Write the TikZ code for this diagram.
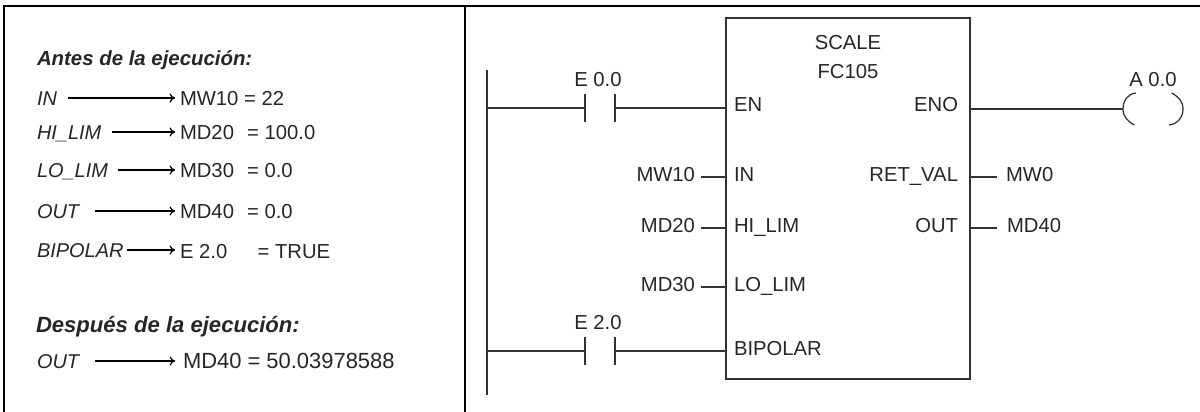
\documentclass[tikz,border=0pt]{standalone}
\usepackage{fontspec}
\setmainfont{Liberation Sans}
\usetikzlibrary{arrows.meta}
\tikzset{
    txt/.style={inner sep=0, outer sep=0, text=black!85, font=\fontsize{14.4}{16}\selectfont,
                text height=7pt, text depth=0pt},
    head/.style={txt, anchor=west, text height=10pt, font=\fontsize{14.5}{16}\selectfont\bfseries\itshape},
    param/.style={txt, anchor=west, text height=10pt, font=\fontsize{14.2}{16}\selectfont\itshape},
    val/.style={txt, anchor=west},
    pinl/.style={txt, anchor=west},
    pinr/.style={txt, anchor=east},
    frame/.style={black, line width=1.5pt},
    wire/.style={black!80, line width=0.9pt},
    arrow/.style={black, line width=0.85pt, -{To[length=4pt,width=6.5pt]}, shorten >=3.5pt},
    contact/.style={inner sep=0, outer sep=0, minimum width=0.75cm, minimum height=0.7cm},
}
\begin{document}
\begin{tikzpicture}[x=0.025cm, y=-0.025cm]
        \useasboundingbox (0,0) rectangle (1200,412);
        % Draw the frame
        \draw[frame] (4,412) -- (4,6) -- (1200,6);
        \draw[frame] (465,6) -- (465,412);
        % Draw the values before and after
        \node[head]  at (37, 58)   (antes)   {Antes de la ejecución:};
        \node[param] at (37, 98)   (pin)     {IN};
        \node[param] at (37, 132)  (phi)     {HI\_LIM};
        \node[param] at (37, 170)  (plo)     {LO\_LIM};
        \node[param] at (37, 211)  (pout)    {OUT};
        \node[param] at (37, 250)  (pbip)    {BIPOLAR};
        \node[val]   at (180, 101) (vin)     {MW10 = 22};
        \node[val]   at (180, 135) (vhi)     {MD20\hspace{.65em}= 100.0};
        \node[val]   at (180, 173) (vlo)     {MD30\hspace{.65em}= 0.0};
        \node[val]   at (180, 214) (vout)    {MD40\hspace{.65em}= 0.0};
        \node[val]   at (180, 254) (vbip)    {E 2.0\hspace{1.5em}= TRUE};
        \node[head, font=\fontsize{15.7}{16}\selectfont\bfseries\itshape] at (36, 325) (despues) {Después de la ejecución:};
        \node[param] at (37, 361)  (pfin)    {OUT};
        \node[val, font=\fontsize{15.6}{16}\selectfont] at (183, 364) (vfin) {MD40 = 50.03978588};
        % Connect them with arrows
        \draw[arrow, shorten <=7.8pt] (pin.east) -- (pin.east -| vin.west);
        \draw[arrow, shorten <=7.8pt] (phi.east) -- (phi.east -| vhi.west);
        \draw[arrow, shorten <=7.1pt] (plo.east) -- (plo.east -| vlo.west);
        \draw[arrow, shorten <=11.3pt] (pout.east) -- (pout.east -| vout.west);
        \draw[arrow, shorten <=2.1pt] (pbip.east) -- (pbip.east -| vbip.west);
        \draw[arrow, shorten <=11.3pt, shorten >=5.5pt] (pfin.east) -- (pfin.east -| vfin.west);
        % Draw the block and its pins
        \node[draw=black!80, line width=0.9pt, inner sep=0, outer sep=0,
              minimum width=6.1cm, minimum height=9.025cm] at (848, 198.5) (block) {};
        \node[txt] at (848, 45)  (scale) {SCALE};
        \node[txt] at (848, 74)  (fc)    {FC105};
        \node[pinl] at (734, 107) (en)     {EN};
        \node[pinl] at (734, 177) (in)     {IN};
        \node[pinl] at (734, 228) (hilim)  {HI\_LIM};
        \node[pinl] at (734, 287) (lolim)  {LO\_LIM};
        \node[pinl] at (734, 351) (bipolar) {BIPOLAR};
        \node[pinr] at (958, 107) (eno)    {ENO};
        \node[pinr] at (958, 177) (retval) {RET\_VAL};
        \node[pinr] at (958, 228) (out)    {OUT};
        % Draw the operands
        \node[pinr] at (695, 177)  (mw10) {MW10};
        \node[pinr] at (695, 228)  (md20) {MD20};
        \node[pinr] at (695, 287)  (md30) {MD30};
        \node[pinl] at (1006, 177) (mw0)  {MW0};
        \node[pinl] at (1007, 228) (md40) {MD40};
        \draw[wire, shorten <=4.2pt] (mw10.east) -- (mw10.east -| block.west);
        \draw[wire, shorten <=4.2pt] (md20.east) -- (md20.east -| block.west);
        \draw[wire, shorten <=4.2pt] (md30.east) -- (md30.east -| block.west);
        \draw[wire, shorten >=6.4pt] (retval.east -| block.east) -- (mw0.west);
        \draw[wire, shorten >=7.1pt] (out.east -| block.east) -- (md40.west);
        % Draw the rail and the rungs
        \coordinate (railtop) at (487, 70);
        \coordinate (railbot) at (487, 395);
        \draw[wire] (railtop) -- (railbot);
        \node[contact] at (600, 108) (e00) {};
        \node[contact] at (600, 351) (e20) {};
        \node[txt] at (598, 82)  (e00l) {E 0.0};
        \node[txt] at (598, 325) (e20l) {E 2.0};
        \foreach \c in {e00, e20} {
            \draw[wire] (\c.north west) -- (\c.south west);
            \draw[wire] (\c.north east) -- (\c.south east);
            \draw[wire] (\c.west -| railtop) -- (\c.west);
            \draw[wire] (\c.east) -- (\c.east -| block.west);
        }
        % Draw the coil
        \node[inner sep=0, outer sep=0, minimum width=1.5cm, minimum height=0.8cm] at (1153, 109) (coil) {};
        \node[txt] at (1153, 82) (a00) {A 0.0};
        \draw[wire] (coil.west -| block.east) -- (coil.west);
        \draw[wire] ([xshift=0.32cm]coil.north west) to[out=185, in=90] (coil.west)
            to[out=-90, in=150] ([xshift=0.28cm]coil.south west);
        \draw[wire] ([xshift=-0.28cm]coil.north east) to[out=-30, in=90] (coil.east)
            to[out=-90, in=5] ([xshift=-0.35cm]coil.south east);
\end{tikzpicture}
\end{document}
